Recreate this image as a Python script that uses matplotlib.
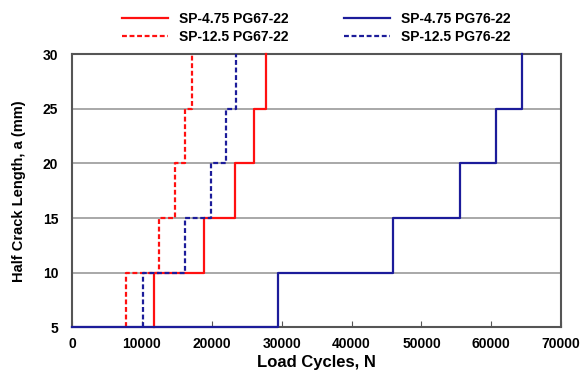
import numpy as np
import matplotlib.pyplot as plt

# crack length levels (mm) and load cycles where each level is reached
crack = [5, 10, 15, 20, 25, 30]
sp475_pg67 = [0, 11700, 18900, 23300, 26000, 27800]
sp125_pg67 = [0, 7650, 12400, 14750, 16200, 17150]
sp475_pg76 = [0, 29450, 45900, 55550, 60700, 64400]
sp125_pg76 = [0, 10100, 16100, 19850, 22000, 23500]

red = '#ff1010'
blue = '#1c1c9a'

plt.rcParams['font.family'] = ['Liberation Sans', 'DejaVu Sans']
plt.rcParams['font.weight'] = 'bold'

fig = plt.figure(figsize=(5.81, 3.75), dpi=100)
ax = fig.add_axes([0.124, 0.127, 0.842, 0.729])

ax.grid(axis='y', color='#999999', lw=1.2, zorder=0)
kw = dict(where='post', lw=1.6, clip_on=False, zorder=3)

def hidden_start(xs):
    # the common run along a = 5 sits under the solid blue, so begin at the first N
    return [xs[1]] + xs[1:], [crack[0]] + crack[1:]

ax.step(*hidden_start(sp475_pg67), color=red, label='SP-4.75 PG67-22', **kw)
ax.step(*hidden_start(sp125_pg67), color=red, ls=(0, (2.2, 1.2)), label='SP-12.5 PG67-22', **kw)
ax.step(*hidden_start(sp125_pg76), color=blue, ls=(0, (2.2, 1.2)), label='SP-12.5 PG76-22', **kw)
ax.step(sp475_pg76, crack, color=blue, label='SP-4.75 PG76-22', **kw)

ax.set_xlim(0, 70000)
ax.set_ylim(5, 30)
ax.set_xticks(np.arange(0, 70001, 10000))
ax.set_yticks(np.arange(5, 31, 5))
ax.tick_params(axis='x', direction='in', length=4, color='#555555', labelsize=10, pad=7)
ax.tick_params(axis='y', length=0, labelsize=10, pad=10)
for s in ax.spines.values():
    s.set_color('#555555')
    s.set_linewidth(1.5)

ax.set_xlabel('Load Cycles, N', fontsize=12, fontweight='bold', labelpad=3)
ax.set_ylabel('Half Crack Length, a (mm)', fontsize=10.5, fontweight='bold', labelpad=12)

h, l = ax.get_legend_handles_labels()
order = [0, 1, 3, 2]
ax.legend([h[i] for i in order], [l[i] for i in order], ncol=2, frameon=False,
          loc='lower center', bbox_to_anchor=(0.5, 1.0), fontsize=10,
          handlelength=3.3, columnspacing=4.0, labelspacing=0.3, borderaxespad=0.3)

fig.savefig('out.png', dpi=100)
